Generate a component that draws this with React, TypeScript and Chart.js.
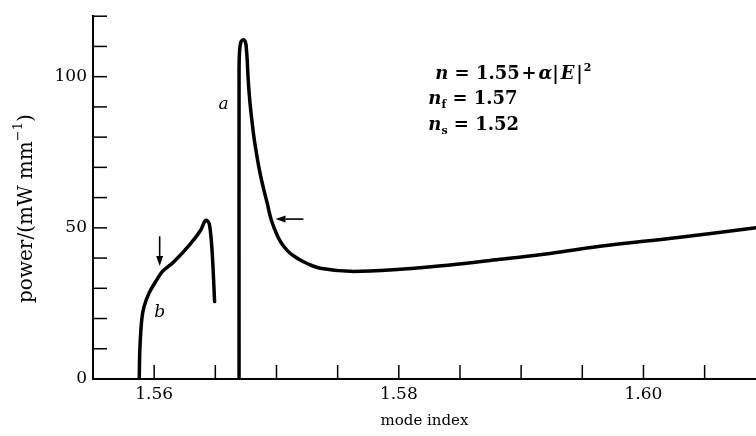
import React, { useEffect, useRef } from "react";
import { Chart, registerables } from "chart.js";
Chart.register(...registerables);

// ---- axis ranges / ticks ----
const X_MIN = 1.555;
const X_MAX = 1.6092;
const Y_MIN = 0;
const Y_MAX = 120;
const X_STEP = 0.005;
const Y_STEP = 10;
const xLabelledTicks = [1.56, 1.58, 1.6];
const yLabelledTicks = [0, 50, 100];

// ---- curve a (tall peak then long valley) ----
const curveAX = [
  1.56694, 1.56694, 1.56697, 1.56708, 1.56728, 1.56747, 1.56755, 1.56761, 1.56766,
  1.56773, 1.56784, 1.56799, 1.56816, 1.56837, 1.56861, 1.56891, 1.56925, 1.56958,
  1.57012, 1.57057, 1.57114, 1.5718, 1.57251, 1.57359, 1.57604, 1.58012, 1.5842,
  1.58829, 1.59237, 1.59645, 1.60282, 1.6092,
];
const curveAY = [
  0, 100, 107.5, 111.3, 112.2, 111.3, 108.6, 105.3, 101.0,
  96.5, 91.1, 85.5, 79.9, 74.5, 69.0, 63.5, 58.0, 52.5,
  47.0, 44.0, 41.5, 39.7, 38.2, 36.6, 35.6, 36.3, 37.7,
  39.6, 41.5, 43.9, 46.8, 50.0,
];

// ---- curve b (small hump) ----
const curveBX = [
  1.55878, 1.55883, 1.55898, 1.55917, 1.55958, 1.56012, 1.56067, 1.56162, 1.56298,
  1.5638, 1.56415, 1.56429, 1.5645, 1.56467, 1.56478, 1.56486, 1.56494,
];
const curveBY = [
  0, 9.7, 19.5, 23.9, 28.4, 32.2, 35.5, 38.8, 44.8,
  49.2, 52.3, 52.5, 51.4, 45.9, 39.3, 32.7, 25.6,
];

// ---- curve labels ----
const curveLabelText = ["a", "b"];
const curveLabelX = [1.56567, 1.56045];
const curveLabelY = [90.8, 21.9];

// ---- arrows (from -> to, head at "to") ----
const arrowFromX = [1.56045, 1.5722];
const arrowFromY = [47.2, 52.9];
const arrowToX = [1.56045, 1.56992];
const arrowToY = [37.4, 52.9];

// ---- formula block ----
const formulaX = [1.58298, 1.58241, 1.58241];
const formulaY = [99.3, 90.8, 82.2];
const formulaLines: [string, string][][] = [
  [["n", "i"], [" = ", "r"], ["1.55", "r"], ["\u200a+\u200a", "r"], ["α", "i"], ["|", "r"], ["\u200aE\u200a", "i"], ["|", "r"], ["\u200a2", "sup"]],
  [["n", "i"], ["f", "sub"], [" = ", "r"], ["1.57", "r"]],
  [["n", "i"], ["s", "sub"], [" = ", "r"], ["1.52", "r"]],
];

const FAMILY = "'DejaVu Serif', serif";

const near = (v: number, list: number[]) => list.some((t) => Math.abs(v - t) < 1e-7);

const overlay = {
  id: "overlay",
  afterDraw(chart: any) {
    const ctx: CanvasRenderingContext2D = chart.ctx;
    const xs = chart.scales.x;
    const ys = chart.scales.y;
    const area = chart.chartArea;
    const TL = 14;
    ctx.save();
    ctx.strokeStyle = "#000";
    ctx.fillStyle = "#000";
    ctx.lineWidth = 1.5;
    // inward tick marks
    xs.ticks.forEach((t: any) => {
      if (t.value < xs.min - 1e-9 || t.value > xs.max + 1e-9) return;
      const px = xs.getPixelForValue(t.value);
      ctx.beginPath();
      ctx.moveTo(px, area.bottom);
      ctx.lineTo(px, area.bottom - TL);
      ctx.stroke();
    });
    ys.ticks.forEach((t: any) => {
      if (t.value < ys.min - 1e-9 || t.value > ys.max + 1e-9) return;
      const py = ys.getPixelForValue(t.value);
      ctx.beginPath();
      ctx.moveTo(area.left, py);
      ctx.lineTo(area.left + TL, py);
      ctx.stroke();
    });

    // arrows
    for (let i = 0; i < arrowFromX.length; i++) {
      const x0 = xs.getPixelForValue(arrowFromX[i]);
      const y0 = ys.getPixelForValue(arrowFromY[i]);
      const x1 = xs.getPixelForValue(arrowToX[i]);
      const y1 = ys.getPixelForValue(arrowToY[i]);
      const ang = Math.atan2(y1 - y0, x1 - x0);
      const hl = 10, hw = 3.5;
      const bx = x1 - hl * Math.cos(ang);
      const by = y1 - hl * Math.sin(ang);
      ctx.lineWidth = 1.6;
      ctx.beginPath();
      ctx.moveTo(x0, y0);
      ctx.lineTo(bx, by);
      ctx.stroke();
      ctx.beginPath();
      ctx.moveTo(x1, y1);
      ctx.lineTo(bx + hw * Math.sin(ang), by - hw * Math.cos(ang));
      ctx.lineTo(bx - hw * Math.sin(ang), by + hw * Math.cos(ang));
      ctx.closePath();
      ctx.fill();
    }

    // curve labels
    ctx.font = `italic 17px ${FAMILY}`;
    ctx.textAlign = "center";
    ctx.textBaseline = "middle";
    curveLabelText.forEach((s, i) => {
      ctx.fillText(s, xs.getPixelForValue(curveLabelX[i]), ys.getPixelForValue(curveLabelY[i]));
    });

    // formula block
    ctx.textAlign = "left";
    ctx.textBaseline = "alphabetic";
    formulaLines.forEach((segs, li) => {
      let x = xs.getPixelForValue(formulaX[li]);
      const base = ys.getPixelForValue(formulaY[li]);
      segs.forEach(([txt, kind]) => {
        let font = `bold 18px ${FAMILY}`;
        let dy = 0;
        if (kind === "i") font = `italic bold 18px ${FAMILY}`;
        if (kind === "sup") { font = `bold 11px ${FAMILY}`; dy = -8; }
        if (kind === "sub") { font = `bold 11px ${FAMILY}`; dy = 4; }
        ctx.font = font;
        ctx.fillText(txt, x, base + dy);
        x += ctx.measureText(txt).width;
      });
    });

    // y-axis title with superscript
    ctx.translate(27, (area.top + area.bottom) / 2 + 11);
    ctx.rotate(-Math.PI / 2);
    const mainF = `20px ${FAMILY}`;
    const supF = `13px ${FAMILY}`;
    const p1 = "power/(mW mm";
    const p2 = "\u22121";
    const p3 = ")";
    ctx.font = mainF;
    const w1 = ctx.measureText(p1).width;
    const w3 = ctx.measureText(p3).width;
    ctx.font = supF;
    const w2 = ctx.measureText(p2).width;
    let sx = -(w1 + w2 + w3) / 2;
    ctx.textBaseline = "middle";
    ctx.font = mainF;
    ctx.fillText(p1, sx, 0);
    sx += w1;
    ctx.font = supF;
    ctx.fillText(p2, sx, -8);
    sx += w2;
    ctx.font = mainF;
    ctx.fillText(p3, sx, 0);
    ctx.restore();
  },
};

export default function App() {
  const ref = useRef<HTMLCanvasElement>(null);
  useEffect(() => {
    if (!ref.current) return;
    const toPts = (xa: number[], ya: number[]) => xa.map((x, i) => ({ x, y: ya[i] }));
    const chart = new Chart(ref.current, {
      type: "line",
      data: {
        datasets: [
          {
            data: toPts(curveAX, curveAY),
            borderColor: "#000",
            borderWidth: 3.5,
            borderJoinStyle: "round",
            borderCapStyle: "round",
            pointRadius: 0,
            tension: 0.35,
            fill: false,
          },
          {
            data: toPts(curveBX, curveBY),
            borderColor: "#000",
            borderWidth: 3.5,
            borderJoinStyle: "round",
            borderCapStyle: "round",
            pointRadius: 0,
            tension: 0.3,
            fill: false,
          },
        ],
      },
      options: {
        animation: false,
        responsive: false,
        devicePixelRatio: 1,
        layout: { padding: { top: 15, left: 0, right: 0, bottom: 0 } },
        plugins: { legend: { display: false }, tooltip: { enabled: false } },
        scales: {
          x: {
            type: "linear",
            min: X_MIN,
            max: X_MAX,
            bounds: "data",
            grid: { display: false, drawTicks: false, tickLength: 0 },
            border: { display: true, color: "#000", width: 2 },
            ticks: {
              stepSize: X_STEP,
              includeBounds: false,
              autoSkip: false,
              maxRotation: 0,
              minRotation: 0,
              padding: 5,
              color: "#000",
              font: { family: FAMILY, size: 17 },
              callback: (v: any) => (near(Number(v), xLabelledTicks) ? Number(v).toFixed(2) : ""),
            },
            title: {
              display: true,
              text: "mode index",
              color: "#000",
              font: { family: FAMILY, size: 15 },
              padding: { top: 0, bottom: 6 },
            },
            afterFit: (s: any) => { s.height = 57; },
          },
          y: {
            type: "linear",
            min: Y_MIN,
            max: Y_MAX,
            bounds: "data",
            grid: { display: false, drawTicks: false, tickLength: 0 },
            border: { display: true, color: "#000", width: 2 },
            ticks: {
              stepSize: Y_STEP,
              includeBounds: false,
              autoSkip: false,
              padding: 6,
              color: "#000",
              font: { family: FAMILY, size: 17 },
              callback: (v: any) => (near(Number(v), yLabelledTicks) ? String(Number(v)) : ""),
            },
            afterFit: (s: any) => { s.width = 93; },
          },
        },
      },
      plugins: [overlay],
    });
    return () => chart.destroy();
  }, []);
  return (
    <div style={{ position: "absolute", left: 0, top: 0, width: 756, height: 436, background: "#fff" }}>
      <canvas ref={ref} width={756} height={436} style={{ display: "block" }} />
    </div>
  );
}
